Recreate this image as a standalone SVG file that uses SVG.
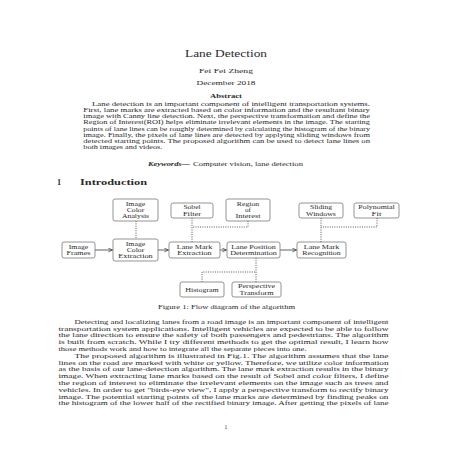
<svg xmlns="http://www.w3.org/2000/svg" width="452" height="452" viewBox="0 0 452 452">
<style>
text{font-family:"Liberation Serif","Times New Roman",serif;fill:#2a2a2a;}
.title{font-size:9.9px;text-anchor:middle;}
.auth{font-size:6.8px;text-anchor:middle;}
.abh{font-size:5.3px;font-weight:bold;text-anchor:middle;}
.ab{font-size:5.1px;}
.bd{font-size:5.7px;}
.sec{font-size:8.2px;font-weight:bold;}
.cap{font-size:5.7px;}
.n text{font-size:5.7px;text-anchor:middle;}
.n rect{fill:#fff;stroke:#7a7a7a;stroke-width:0.8;}
.arr{fill:none;stroke:#3a3a3a;stroke-width:0.8;marker-end:url(#ah);}
.dot{fill:none;stroke:#444;stroke-width:0.9;stroke-dasharray:1 1.3;}
</style>
<defs>
<marker id="ah" viewBox="0 0 6 6" refX="5.5" refY="3" markerWidth="5" markerHeight="5" markerUnits="userSpaceOnUse" orient="auto">
<path d="M0.5,0.8 L5.5,3 L0.5,5.2" fill="none" stroke="#3a3a3a" stroke-width="0.9"/>
</marker>
</defs>
<rect width="452" height="452" fill="#fff"/>

<text class="title" x="226" y="56.5" textLength="82" lengthAdjust="spacingAndGlyphs">Lane Detection</text>
<text class="auth" x="226" y="72.5" textLength="54" lengthAdjust="spacingAndGlyphs">Fei Fei Zheng</text>
<text class="auth" x="226" y="85" textLength="59" lengthAdjust="spacingAndGlyphs">December 2018</text>
<text class="abh" x="226" y="98" textLength="32" lengthAdjust="spacingAndGlyphs">Abstract</text>

<g class="ab">
<text class="ab" x="92" y="105.5" textLength="278" lengthAdjust="spacingAndGlyphs">Lane detection is an important component of intelligent transportation systems.</text>
<text class="ab" x="83.3" y="111.8" textLength="286.7" lengthAdjust="spacingAndGlyphs">First, lane marks are extracted based on color information and the resultant binary</text>
<text class="ab" x="83.3" y="118.1" textLength="286.7" lengthAdjust="spacingAndGlyphs">image with Canny line detection. Next, the perspective transformation and define the</text>
<text class="ab" x="83.3" y="124.3" textLength="286.7" lengthAdjust="spacingAndGlyphs">Region of Interest(ROI) helps eliminate irrelevant elements in the image. The starting</text>
<text class="ab" x="83.3" y="130.6" textLength="286.7" lengthAdjust="spacingAndGlyphs">points of lane lines can be roughly determined by calculating the histogram of the binary</text>
<text class="ab" x="83.3" y="136.9" textLength="286.7" lengthAdjust="spacingAndGlyphs">image. Finally, the pixels of lane lines are detected by applying sliding windows from</text>
<text class="ab" x="83.3" y="143.2" textLength="286.7" lengthAdjust="spacingAndGlyphs">detected starting points. The proposed algorithm can be used to detect lane lines on</text>
<text class="ab" x="83.3" y="149.4" textLength="79" lengthAdjust="spacingAndGlyphs">both images and videos.</text>
</g>

<text class="bd" x="148" y="166" textLength="42" lengthAdjust="spacingAndGlyphs" font-weight="bold" font-style="italic">Keywords—</text>
<text class="bd" x="193" y="166" textLength="110" lengthAdjust="spacingAndGlyphs">Computer vision, lane detection</text>

<text class="sec" x="57" y="184.5">1</text>
<text class="sec" x="80" y="184.5" textLength="67" lengthAdjust="spacingAndGlyphs">Introduction</text>

<g id="connectors">
<path class="arr" d="M95,250 H112.5"/>
<path class="arr" d="M158,250 H168.5"/>
<path class="arr" d="M220,250 H226.5"/>
<path class="arr" d="M280,250 H296.5"/>
<path class="dot" d="M136,221 V239"/>
<path class="dot" d="M192,218 V242"/>
<path class="dot" d="M248,221 V227 H192"/>
<path class="dot" d="M321,218 V242"/>
<path class="dot" d="M377,218 V227 H321"/>
<path class="dot" d="M256,258 V282"/>
<path class="dot" d="M202,282 V272 H256"/>
</g>

<g id="image-frames" class="n">
<rect x="62" y="242" width="33" height="16" rx="2"/>
<text x="78.5" y="248.8" textLength="19.5" lengthAdjust="spacingAndGlyphs">Image</text>
<text x="78.5" y="255.2" textLength="23.8" lengthAdjust="spacingAndGlyphs">Frames</text>
</g>
<g id="image-color-analysis" class="n">
<rect x="113" y="199" width="45" height="22" rx="2"/>
<text x="135.5" y="205.6" textLength="19.5" lengthAdjust="spacingAndGlyphs">Image</text>
<text x="135.5" y="212" textLength="17.7" lengthAdjust="spacingAndGlyphs">Color</text>
<text x="135.5" y="218.4" textLength="27.2" lengthAdjust="spacingAndGlyphs">Analysis</text>
</g>
<g id="image-color-extraction" class="n">
<rect x="113" y="239" width="45" height="22" rx="2"/>
<text x="135.5" y="245.6" textLength="19.5" lengthAdjust="spacingAndGlyphs">Image</text>
<text x="135.5" y="252" textLength="17.7" lengthAdjust="spacingAndGlyphs">Color</text>
<text x="135.5" y="258.4" textLength="34.4" lengthAdjust="spacingAndGlyphs">Extraction</text>
</g>
<g id="sobel-filter" class="n">
<rect x="171" y="203" width="42" height="15" rx="2"/>
<text x="192" y="209.3" textLength="17.2" lengthAdjust="spacingAndGlyphs">Sobel</text>
<text x="192" y="215.7" textLength="18" lengthAdjust="spacingAndGlyphs">Filter</text>
</g>
<g id="region-of-interest" class="n">
<rect x="226" y="199" width="44" height="22" rx="2"/>
<text x="248" y="205.6" textLength="22.3" lengthAdjust="spacingAndGlyphs">Region</text>
<text x="248" y="212" textLength="6" lengthAdjust="spacingAndGlyphs">of</text>
<text x="248" y="218.4" textLength="24.9" lengthAdjust="spacingAndGlyphs">Interest</text>
</g>
<g id="lane-mark-extraction" class="n">
<rect x="169" y="242" width="51" height="16" rx="2"/>
<text x="194.5" y="248.8" textLength="35.4" lengthAdjust="spacingAndGlyphs">Lane Mark</text>
<text x="194.5" y="255.2" textLength="34.4" lengthAdjust="spacingAndGlyphs">Extraction</text>
</g>
<g id="lane-position-determination" class="n">
<rect x="227" y="242" width="53" height="16" rx="2"/>
<text x="253.5" y="248.8" textLength="44.6" lengthAdjust="spacingAndGlyphs">Lane Position</text>
<text x="253.5" y="255.2" textLength="46.7" lengthAdjust="spacingAndGlyphs">Determination</text>
</g>
<g id="lane-mark-recognition" class="n">
<rect x="297" y="242" width="49" height="16" rx="2"/>
<text x="321.5" y="248.8" textLength="35.4" lengthAdjust="spacingAndGlyphs">Lane Mark</text>
<text x="321.5" y="255.2" textLength="38.3" lengthAdjust="spacingAndGlyphs">Recognition</text>
</g>
<g id="sliding-windows" class="n">
<rect x="299" y="203" width="44" height="15" rx="2"/>
<text x="321" y="209.3" textLength="22.2" lengthAdjust="spacingAndGlyphs">Sliding</text>
<text x="321" y="215.7" textLength="29.8" lengthAdjust="spacingAndGlyphs">Windows</text>
</g>
<g id="polynomial-fit" class="n">
<rect x="354" y="203" width="45" height="15" rx="2"/>
<text x="376.5" y="209.3" textLength="36.4" lengthAdjust="spacingAndGlyphs">Polynomial</text>
<text x="376.5" y="215.7" textLength="9.8" lengthAdjust="spacingAndGlyphs">Fit</text>
</g>
<g id="histogram" class="n">
<rect x="180" y="282" width="44" height="15" rx="2"/>
<text x="202" y="291.5" textLength="33.5" lengthAdjust="spacingAndGlyphs">Histogram</text>
</g>
<g id="perspective-transform" class="n">
<rect x="232" y="282" width="49" height="15" rx="2"/>
<text x="256.5" y="288.3" textLength="36.9" lengthAdjust="spacingAndGlyphs">Perspective</text>
<text x="256.5" y="294.7" textLength="34" lengthAdjust="spacingAndGlyphs">Transform</text>
</g>

<text class="cap" x="158" y="308.5" textLength="137" lengthAdjust="spacingAndGlyphs">Figure 1: Flow diagram of the algorithm</text>

<g>
<text class="bd" x="74.5" y="323.8" textLength="314" lengthAdjust="spacingAndGlyphs">Detecting and localizing lanes from a road image is an important component of intelligent</text>
<text class="bd" x="58.5" y="330.6" textLength="330" lengthAdjust="spacingAndGlyphs">transportation system applications. Intelligent vehicles are expected to be able to follow</text>
<text class="bd" x="58.5" y="337.4" textLength="330" lengthAdjust="spacingAndGlyphs">the lane direction to ensure the safety of both passengers and pedestrians. The algorithm</text>
<text class="bd" x="58.5" y="344.2" textLength="330" lengthAdjust="spacingAndGlyphs">is built from scratch. While I try different methods to get the optimal result, I learn how</text>
<text class="bd" x="58.5" y="351" textLength="248" lengthAdjust="spacingAndGlyphs">those methods work and how to integrate all the separate pieces into one.</text>
<text class="bd" x="74.5" y="357.8" textLength="314" lengthAdjust="spacingAndGlyphs">The proposed algorithm is illustrated in Fig.1. The algorithm assumes that the lane</text>
<text class="bd" x="58.5" y="364.6" textLength="330" lengthAdjust="spacingAndGlyphs">lines on the road are marked with white or yellow. Therefore, we utilize color information</text>
<text class="bd" x="58.5" y="371.4" textLength="330" lengthAdjust="spacingAndGlyphs">as the basis of our lane-detection algorithm. The lane mark extraction results in the binary</text>
<text class="bd" x="58.5" y="378.2" textLength="330" lengthAdjust="spacingAndGlyphs">image. When extracting lane marks based on the result of Sobel and color filters, I define</text>
<text class="bd" x="58.5" y="385" textLength="330" lengthAdjust="spacingAndGlyphs">the region of interest to eliminate the irrelevant elements on the image such as trees and</text>
<text class="bd" x="58.5" y="391.8" textLength="330" lengthAdjust="spacingAndGlyphs">vehicles. In order to get "birds-eye view", I apply a perspective transform to rectify binary</text>
<text class="bd" x="58.5" y="398.6" textLength="330" lengthAdjust="spacingAndGlyphs">image. The potential starting points of the lane marks are determined by finding peaks on</text>
<text class="bd" x="58.5" y="405.4" textLength="330" lengthAdjust="spacingAndGlyphs">the histogram of the lower half of the rectified binary image. After getting the pixels of lane</text>
</g>

<text class="bd" x="226" y="429" text-anchor="middle">1</text>
</svg>
